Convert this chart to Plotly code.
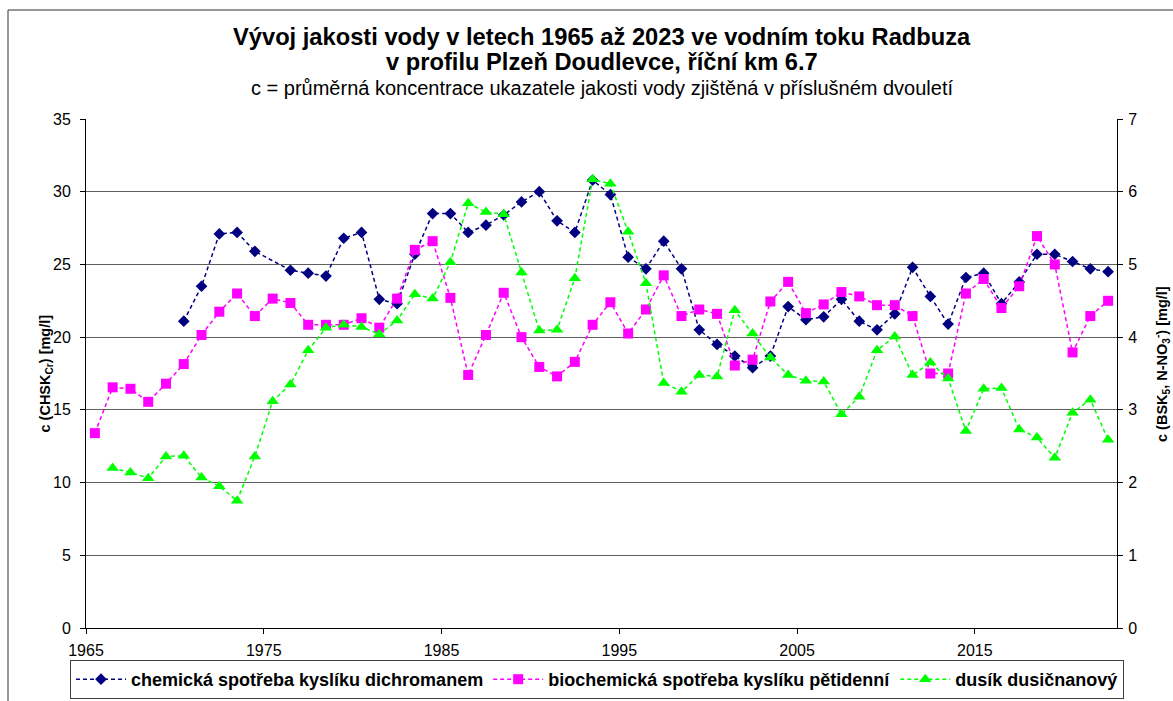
import plotly.graph_objects as go

# Years of the monitoring record (each value is plotted at the middle of its year)
years = list(range(1965, 2023))

# Chemical oxygen demand (dichromate), CHSK_Cr [mg/l] - left axis
chsk = [None, None, None, None, None,
        21.1, 23.5, 27.1, 27.2, 25.9,
        None, 24.6, 24.4, 24.2, 26.8,
        27.2, 22.6, 22.3, 25.7, 28.5,
        28.5, 27.2, 27.7, 28.4, 29.3,
        30.0, 28.0, 27.2, 30.8, 29.8,
        25.5, 24.7, 26.6, 24.7, 20.5,
        19.5, 18.7, 17.9, 18.7, 22.1,
        21.2, 21.4, 22.6, 21.1, 20.5,
        21.6, 24.8, 22.8, 20.9, 24.1,
        24.4, 22.3, 23.8, 25.7, 25.7,
        25.2, 24.7, 24.5]

# Biochemical oxygen demand (5-day), BSK_5 [mg/l] - right axis
bsk5 = [2.68, 3.31, 3.29, 3.11, 3.36,
        3.63, 4.03, 4.35, 4.60, 4.29,
        4.53, 4.47, 4.17, 4.17, 4.17,
        4.26, 4.13, 4.53, 5.20, 5.32,
        4.54, 3.48, 4.03, 4.61, 4.00,
        3.59, 3.46, 3.66, 4.17, 4.48,
        4.05, 4.38, 4.85, 4.29, 4.38,
        4.32, 3.61, 3.69, 4.49, 4.76,
        4.33, 4.45, 4.62, 4.56, 4.44,
        4.44, 4.29, 3.50, 3.50, 4.60,
        4.80, 4.40, 4.70, 5.39, 5.00,
        3.79, 4.29, 4.50]

# Nitrate nitrogen, N-NO3- [mg/l] - right axis
nno3 = [None, 2.20, 2.14, 2.06, 2.36,
        2.37, 2.07, 1.95, 1.75, 2.36,
        3.12, 3.35, 3.82, 4.13, 4.17,
        4.14, 4.04, 4.23, 4.59, 4.53,
        5.03, 5.84, 5.72, 5.69, 4.89,
        4.09, 4.10, 4.81, 6.17, 6.11,
        5.45, 4.74, 3.37, 3.25, 3.48,
        3.46, 4.37, 4.05, 3.72, 3.48,
        3.40, 3.39, 2.94, 3.18, 3.82,
        4.01, 3.48, 3.65, 3.43, 2.71,
        3.29, 3.30, 2.73, 2.62, 2.34,
        2.96, 3.14, 2.59]

x_mid = [y + 0.5 for y in years]

FONT = "Liberation Sans, Arial, sans-serif"
DASH = "4px,3px"

fig = go.Figure()

fig.add_trace(go.Scatter(
    x=x_mid, y=chsk, name="chemická spotřeba kyslíku dichromanem",
    mode="lines+markers", connectgaps=True,
    line=dict(color="#000080", width=1.5, dash=DASH),
    marker=dict(symbol="diamond", size=9, color="#000080"),
    yaxis="y"))

fig.add_trace(go.Scatter(
    x=x_mid, y=bsk5, name="biochemická spotřeba kyslíku pětidenní",
    mode="lines+markers",
    line=dict(color="#FF00FF", width=1.5, dash=DASH),
    marker=dict(symbol="square", size=10, color="#FF00FF"),
    yaxis="y2"))

fig.add_trace(go.Scatter(
    x=x_mid, y=nno3, name="dusík dusičnanový",
    mode="lines+markers",
    line=dict(color="#00FF00", width=1.5, dash=DASH),
    marker=dict(symbol="triangle-up", size=11, color="#00FF00"),
    yaxis="y2"))

L, R, T, B = 86, 56, 119, 73
W, H = 1173, 701
pw = W - L - R
ph = H - T - B


def px_x(p):
    return (p - L) / pw


def px_y(p):
    return (H - B - p) / ph


annotations = [
    dict(text="<b>Vývoj jakosti vody v letech 1965 až 2023 ve vodním toku Radbuza</b>",
         x=0.5, y=px_y(37), font=dict(size=23.7)),
    dict(text="<b>v profilu Plzeň Doudlevce, říční km 6.7</b>",
         x=0.5, y=px_y(62), font=dict(size=23.7)),
    dict(text="c = průměrná koncentrace ukazatele jakosti vody zjištěná v příslušném dvouletí",
         x=0.5, y=px_y(88), font=dict(size=20)),
    dict(text="<b>c (CHSK<sub>Cr</sub>) [mg/l]</b>", textangle=-90,
         x=px_x(45), y=0.5, font=dict(size=14.5)),
    dict(text="<b>c (BSK<sub>5</sub>, N-NO<sub>3</sub><sup>-</sup>) [mg/l]</b>", textangle=-90,
         x=px_x(1162), y=px_y(364), font=dict(size=14.5)),
]
for a in annotations:
    a.update(xref="paper", yref="paper", showarrow=False,
             xanchor="center", yanchor="middle")
    a["font"].update(family=FONT, color="black")

fig.update_layout(
    width=W, height=H,
    margin=dict(l=L, r=R, t=T, b=B, pad=0, autoexpand=False),
    paper_bgcolor="white", plot_bgcolor="white",
    font=dict(family=FONT, color="black", size=15),
    annotations=annotations,
    showlegend=True,
    legend=dict(orientation="h",
                xref="paper", yref="paper",
                x=px_x(70), y=px_y(660),
                xanchor="left", yanchor="top",
                font=dict(size=18, family=FONT, weight="bold"),
                bordercolor="#404040", borderwidth=1,
                bgcolor="white", itemwidth=50, tracegroupgap=0),
    xaxis=dict(range=[1965, 2023], tick0=1965, dtick=10,
               showgrid=False, zeroline=False,
               showline=True, linecolor="black", linewidth=1,
               ticks="outside", ticklen=5, tickcolor="black",
               ticklabelstandoff=3,
               tickfont=dict(size=16)),
    yaxis=dict(range=[0, 35], dtick=5, tick0=0,
               showgrid=True, gridcolor="#606060", gridwidth=1,
               zeroline=False,
               showline=True, linecolor="black", linewidth=1,
               ticks="outside", ticklen=5, tickcolor="black",
               ticklabelstandoff=6,
               tickfont=dict(size=16)),
    yaxis2=dict(range=[0, 7], dtick=1, tick0=0,
                overlaying="y", side="right",
                showgrid=False, zeroline=False,
                showline=True, linecolor="black", linewidth=1,
                ticks="outside", ticklen=5, tickcolor="black",
                ticklabelstandoff=2,
                tickfont=dict(size=16)),
    shapes=[dict(type="rect", xref="paper", yref="paper",
                 x0=px_x(8), x1=px_x(1200), y0=px_y(730), y1=px_y(10),
                 line=dict(color="#303030", width=1), layer="below")],
)

fig.write_html("out.html")
